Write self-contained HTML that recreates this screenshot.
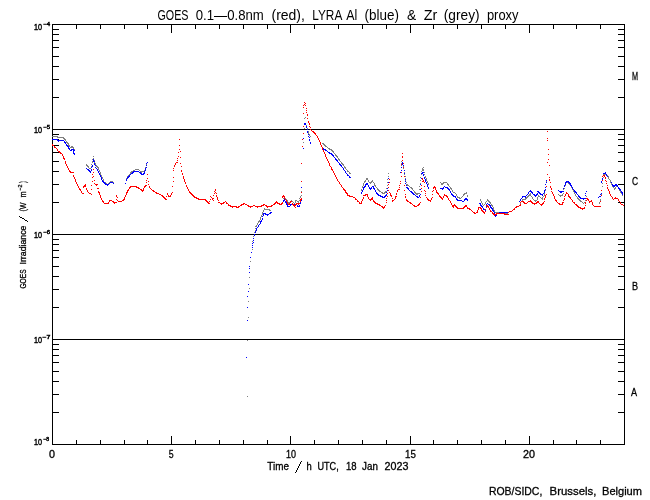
<!DOCTYPE html>
<html><head><meta charset="utf-8"><style>
html,body{margin:0;padding:0;background:#fff;width:650px;height:500px;overflow:hidden}
svg{display:block;will-change:transform}
text{font-family:"Liberation Sans",sans-serif;fill:#000;stroke:#000;stroke-width:0.3px}
</style></head><body>
<svg width="650" height="500" viewBox="0 0 650 500">
<rect x="0" y="0" width="650" height="500" fill="#fff"/>
<g shape-rendering="crispEdges">
<rect x="52" y="24" width="573" height="1" fill="#000"/>
<rect x="52" y="444" width="573" height="1" fill="#000"/>
<rect x="52" y="24" width="1" height="421" fill="#000"/>
<rect x="624" y="24" width="1" height="421" fill="#000"/>
<rect x="52" y="129" width="573" height="1" fill="#000"/>
<rect x="52" y="234" width="573" height="1" fill="#000"/>
<rect x="52" y="339" width="573" height="1" fill="#000"/>
<rect x="52" y="97" width="7" height="1" fill="#000"/>
<rect x="618" y="97" width="7" height="1" fill="#000"/>
<rect x="52" y="79" width="7" height="1" fill="#000"/>
<rect x="618" y="79" width="7" height="1" fill="#000"/>
<rect x="52" y="66" width="7" height="1" fill="#000"/>
<rect x="618" y="66" width="7" height="1" fill="#000"/>
<rect x="52" y="56" width="7" height="1" fill="#000"/>
<rect x="618" y="56" width="7" height="1" fill="#000"/>
<rect x="52" y="47" width="7" height="1" fill="#000"/>
<rect x="618" y="47" width="7" height="1" fill="#000"/>
<rect x="52" y="40" width="7" height="1" fill="#000"/>
<rect x="618" y="40" width="7" height="1" fill="#000"/>
<rect x="52" y="34" width="7" height="1" fill="#000"/>
<rect x="618" y="34" width="7" height="1" fill="#000"/>
<rect x="52" y="29" width="7" height="1" fill="#000"/>
<rect x="618" y="29" width="7" height="1" fill="#000"/>
<rect x="52" y="202" width="7" height="1" fill="#000"/>
<rect x="618" y="202" width="7" height="1" fill="#000"/>
<rect x="52" y="184" width="7" height="1" fill="#000"/>
<rect x="618" y="184" width="7" height="1" fill="#000"/>
<rect x="52" y="171" width="7" height="1" fill="#000"/>
<rect x="618" y="171" width="7" height="1" fill="#000"/>
<rect x="52" y="161" width="7" height="1" fill="#000"/>
<rect x="618" y="161" width="7" height="1" fill="#000"/>
<rect x="52" y="152" width="7" height="1" fill="#000"/>
<rect x="618" y="152" width="7" height="1" fill="#000"/>
<rect x="52" y="145" width="7" height="1" fill="#000"/>
<rect x="618" y="145" width="7" height="1" fill="#000"/>
<rect x="52" y="139" width="7" height="1" fill="#000"/>
<rect x="618" y="139" width="7" height="1" fill="#000"/>
<rect x="52" y="134" width="7" height="1" fill="#000"/>
<rect x="618" y="134" width="7" height="1" fill="#000"/>
<rect x="52" y="307" width="7" height="1" fill="#000"/>
<rect x="618" y="307" width="7" height="1" fill="#000"/>
<rect x="52" y="289" width="7" height="1" fill="#000"/>
<rect x="618" y="289" width="7" height="1" fill="#000"/>
<rect x="52" y="276" width="7" height="1" fill="#000"/>
<rect x="618" y="276" width="7" height="1" fill="#000"/>
<rect x="52" y="266" width="7" height="1" fill="#000"/>
<rect x="618" y="266" width="7" height="1" fill="#000"/>
<rect x="52" y="257" width="7" height="1" fill="#000"/>
<rect x="618" y="257" width="7" height="1" fill="#000"/>
<rect x="52" y="250" width="7" height="1" fill="#000"/>
<rect x="618" y="250" width="7" height="1" fill="#000"/>
<rect x="52" y="244" width="7" height="1" fill="#000"/>
<rect x="618" y="244" width="7" height="1" fill="#000"/>
<rect x="52" y="239" width="7" height="1" fill="#000"/>
<rect x="618" y="239" width="7" height="1" fill="#000"/>
<rect x="52" y="412" width="7" height="1" fill="#000"/>
<rect x="618" y="412" width="7" height="1" fill="#000"/>
<rect x="52" y="394" width="7" height="1" fill="#000"/>
<rect x="618" y="394" width="7" height="1" fill="#000"/>
<rect x="52" y="381" width="7" height="1" fill="#000"/>
<rect x="618" y="381" width="7" height="1" fill="#000"/>
<rect x="52" y="371" width="7" height="1" fill="#000"/>
<rect x="618" y="371" width="7" height="1" fill="#000"/>
<rect x="52" y="362" width="7" height="1" fill="#000"/>
<rect x="618" y="362" width="7" height="1" fill="#000"/>
<rect x="52" y="355" width="7" height="1" fill="#000"/>
<rect x="618" y="355" width="7" height="1" fill="#000"/>
<rect x="52" y="349" width="7" height="1" fill="#000"/>
<rect x="618" y="349" width="7" height="1" fill="#000"/>
<rect x="52" y="344" width="7" height="1" fill="#000"/>
<rect x="618" y="344" width="7" height="1" fill="#000"/>
<rect x="76" y="24" width="1" height="5" fill="#000"/>
<rect x="76" y="440" width="1" height="5" fill="#000"/>
<rect x="100" y="24" width="1" height="5" fill="#000"/>
<rect x="100" y="440" width="1" height="5" fill="#000"/>
<rect x="124" y="24" width="1" height="5" fill="#000"/>
<rect x="124" y="440" width="1" height="5" fill="#000"/>
<rect x="147" y="24" width="1" height="5" fill="#000"/>
<rect x="147" y="440" width="1" height="5" fill="#000"/>
<rect x="171" y="24" width="1" height="9" fill="#000"/>
<rect x="171" y="436" width="1" height="9" fill="#000"/>
<rect x="195" y="24" width="1" height="5" fill="#000"/>
<rect x="195" y="440" width="1" height="5" fill="#000"/>
<rect x="219" y="24" width="1" height="5" fill="#000"/>
<rect x="219" y="440" width="1" height="5" fill="#000"/>
<rect x="243" y="24" width="1" height="5" fill="#000"/>
<rect x="243" y="440" width="1" height="5" fill="#000"/>
<rect x="267" y="24" width="1" height="5" fill="#000"/>
<rect x="267" y="440" width="1" height="5" fill="#000"/>
<rect x="290" y="24" width="1" height="9" fill="#000"/>
<rect x="290" y="436" width="1" height="9" fill="#000"/>
<rect x="314" y="24" width="1" height="5" fill="#000"/>
<rect x="314" y="440" width="1" height="5" fill="#000"/>
<rect x="338" y="24" width="1" height="5" fill="#000"/>
<rect x="338" y="440" width="1" height="5" fill="#000"/>
<rect x="362" y="24" width="1" height="5" fill="#000"/>
<rect x="362" y="440" width="1" height="5" fill="#000"/>
<rect x="386" y="24" width="1" height="5" fill="#000"/>
<rect x="386" y="440" width="1" height="5" fill="#000"/>
<rect x="410" y="24" width="1" height="9" fill="#000"/>
<rect x="410" y="436" width="1" height="9" fill="#000"/>
<rect x="433" y="24" width="1" height="5" fill="#000"/>
<rect x="433" y="440" width="1" height="5" fill="#000"/>
<rect x="457" y="24" width="1" height="5" fill="#000"/>
<rect x="457" y="440" width="1" height="5" fill="#000"/>
<rect x="481" y="24" width="1" height="5" fill="#000"/>
<rect x="481" y="440" width="1" height="5" fill="#000"/>
<rect x="505" y="24" width="1" height="5" fill="#000"/>
<rect x="505" y="440" width="1" height="5" fill="#000"/>
<rect x="529" y="24" width="1" height="9" fill="#000"/>
<rect x="529" y="436" width="1" height="9" fill="#000"/>
<rect x="553" y="24" width="1" height="5" fill="#000"/>
<rect x="553" y="440" width="1" height="5" fill="#000"/>
<rect x="576" y="24" width="1" height="5" fill="#000"/>
<rect x="576" y="440" width="1" height="5" fill="#000"/>
<rect x="600" y="24" width="1" height="5" fill="#000"/>
<rect x="600" y="440" width="1" height="5" fill="#000"/>
<path d="M52 136h1v1h-1zM53 136h1v1h-1zM54 136h1v1h-1zM55 136h1v1h-1zM56 136h1v1h-1zM57 136h1v1h-1zM57 137h1v1h-1zM58 137h1v1h-1zM59 137h1v1h-1zM60 137h1v1h-1zM61 137h1v1h-1zM62 137h1v1h-1zM63 137h1v1h-1zM63 138h1v1h-1zM64 138h1v1h-1zM64 139h1v1h-1zM65 139h1v1h-1zM65 140h1v1h-1zM66 141h1v1h-1zM66 142h1v1h-1zM67 142h1v1h-1zM67 143h1v1h-1zM68 143h1v1h-1zM68 144h1v1h-1zM68 145h1v1h-1zM69 145h1v1h-1zM69 146h1v1h-1zM70 147h1v1h-1zM71 146h1v1h-1zM71 147h1v1h-1zM72 146h1v1h-1zM72 147h1v1h-1zM73 147h1v1h-1zM73 148h1v1h-1zM74 149h1v1h-1zM74 150h1v1h-1zM86 164h1v1h-1zM86 165h1v1h-1zM87 165h1v1h-1zM87 166h1v1h-1zM88 166h1v1h-1zM88 167h1v1h-1zM89 168h1v1h-1zM90 168h1v1h-1zM91 164h1v1h-1zM91 166h1v1h-1zM91 169h1v1h-1zM92 159h1v1h-1zM92 161h1v1h-1zM92 162h1v1h-1zM93 156h1v1h-1zM93 158h1v1h-1zM94 160h1v1h-1zM94 162h1v1h-1zM94 163h1v1h-1zM95 163h1v1h-1zM95 164h1v1h-1zM96 165h1v1h-1zM96 166h1v1h-1zM97 166h1v1h-1zM97 167h1v1h-1zM98 167h1v1h-1zM98 168h1v1h-1zM98 169h1v1h-1zM99 170h1v1h-1zM99 171h1v1h-1zM100 172h1v1h-1zM100 173h1v1h-1zM100 174h1v1h-1zM101 175h1v1h-1zM101 176h1v1h-1zM102 177h1v1h-1zM102 178h1v1h-1zM103 179h1v1h-1zM103 180h1v1h-1zM103 181h1v1h-1zM104 182h1v1h-1zM105 182h1v1h-1zM105 183h1v1h-1zM106 183h1v1h-1zM106 184h1v1h-1zM107 184h1v1h-1zM107 185h1v1h-1zM108 183h1v1h-1zM108 184h1v1h-1zM109 182h1v1h-1zM110 181h1v1h-1zM110 182h1v1h-1zM111 181h1v1h-1zM112 181h1v1h-1zM113 182h1v1h-1zM126 178h1v1h-1zM126 179h1v1h-1zM127 176h1v1h-1zM127 177h1v1h-1zM128 175h1v1h-1zM128 176h1v1h-1zM129 174h1v1h-1zM129 175h1v1h-1zM130 172h1v1h-1zM130 173h1v1h-1zM131 171h1v1h-1zM131 172h1v1h-1zM132 171h1v1h-1zM133 170h1v1h-1zM133 171h1v1h-1zM134 170h1v1h-1zM135 169h1v1h-1zM136 169h1v1h-1zM137 169h1v1h-1zM138 169h1v1h-1zM139 170h1v1h-1zM140 171h1v1h-1zM141 171h1v1h-1zM141 172h1v1h-1zM142 171h1v1h-1zM143 171h1v1h-1zM144 170h1v1h-1zM145 167h1v1h-1zM145 168h1v1h-1zM145 169h1v1h-1zM146 164h1v1h-1zM146 165h1v1h-1zM247 340h1v1h-1zM247 396h1v1h-1zM248 301h1v1h-1zM248 317h1v1h-1zM249 277h1v1h-1zM249 288h1v1h-1zM250 261h1v1h-1zM252 241h1v1h-1zM252 243h1v1h-1zM252 245h1v1h-1zM252 249h1v1h-1zM253 236h1v1h-1zM253 238h1v1h-1zM253 240h1v1h-1zM254 232h1v1h-1zM254 234h1v1h-1zM255 226h1v1h-1zM255 228h1v1h-1zM255 230h1v1h-1zM256 225h1v1h-1zM256 226h1v1h-1zM257 223h1v1h-1zM257 224h1v1h-1zM258 221h1v1h-1zM258 222h1v1h-1zM259 220h1v1h-1zM259 221h1v1h-1zM260 217h1v1h-1zM260 218h1v1h-1zM260 219h1v1h-1zM261 215h1v1h-1zM261 216h1v1h-1zM262 212h1v1h-1zM262 213h1v1h-1zM262 214h1v1h-1zM263 210h1v1h-1zM263 211h1v1h-1zM264 208h1v1h-1zM264 209h1v1h-1zM265 209h1v1h-1zM266 209h1v1h-1zM267 209h1v1h-1zM268 209h1v1h-1zM269 209h1v1h-1zM269 210h1v1h-1zM270 210h1v1h-1zM283 198h1v1h-1zM284 198h1v1h-1zM285 198h1v1h-1zM286 199h1v1h-1zM287 200h1v1h-1zM287 201h1v1h-1zM287 203h1v1h-1zM288 202h1v1h-1zM288 203h1v1h-1zM289 202h1v1h-1zM290 201h1v1h-1zM290 202h1v1h-1zM291 200h1v1h-1zM291 201h1v1h-1zM292 201h1v1h-1zM293 202h1v1h-1zM294 203h1v1h-1zM295 200h1v1h-1zM295 201h1v1h-1zM295 202h1v1h-1zM296 200h1v1h-1zM297 201h1v1h-1zM298 201h1v1h-1zM298 202h1v1h-1zM299 198h1v1h-1zM299 200h1v1h-1zM300 196h1v1h-1zM300 197h1v1h-1zM301 191h1v1h-1zM301 195h1v1h-1zM303 133h1v1h-1zM303 142h1v1h-1zM304 118h1v1h-1zM304 128h1v1h-1zM305 117h1v1h-1zM306 125h1v1h-1zM306 126h1v1h-1zM306 127h1v1h-1zM307 128h1v1h-1zM307 129h1v1h-1zM308 131h1v1h-1zM308 132h1v1h-1zM308 133h1v1h-1zM309 134h1v1h-1zM309 135h1v1h-1zM310 136h1v1h-1zM322 143h1v1h-1zM323 143h1v1h-1zM323 144h1v1h-1zM324 144h1v1h-1zM324 145h1v1h-1zM325 145h1v1h-1zM325 146h1v1h-1zM326 146h1v1h-1zM327 147h1v1h-1zM328 148h1v1h-1zM329 148h1v1h-1zM329 149h1v1h-1zM330 149h1v1h-1zM331 149h1v1h-1zM331 150h1v1h-1zM332 150h1v1h-1zM332 151h1v1h-1zM333 151h1v1h-1zM333 152h1v1h-1zM334 153h1v1h-1zM335 154h1v1h-1zM335 155h1v1h-1zM336 155h1v1h-1zM336 156h1v1h-1zM337 156h1v1h-1zM337 157h1v1h-1zM338 158h1v1h-1zM338 159h1v1h-1zM339 159h1v1h-1zM339 160h1v1h-1zM340 161h1v1h-1zM341 162h1v1h-1zM341 163h1v1h-1zM342 163h1v1h-1zM342 164h1v1h-1zM343 164h1v1h-1zM343 165h1v1h-1zM344 166h1v1h-1zM344 167h1v1h-1zM345 167h1v1h-1zM345 168h1v1h-1zM346 169h1v1h-1zM347 170h1v1h-1zM347 171h1v1h-1zM348 171h1v1h-1zM349 172h1v1h-1zM349 173h1v1h-1zM350 173h1v1h-1zM361 189h1v1h-1zM361 190h1v1h-1zM362 186h1v1h-1zM362 187h1v1h-1zM363 183h1v1h-1zM363 184h1v1h-1zM363 185h1v1h-1zM364 181h1v1h-1zM364 182h1v1h-1zM365 180h1v1h-1zM365 181h1v1h-1zM366 178h1v1h-1zM366 179h1v1h-1zM367 178h1v1h-1zM367 179h1v1h-1zM368 180h1v1h-1zM368 181h1v1h-1zM369 182h1v1h-1zM370 182h1v1h-1zM370 183h1v1h-1zM371 181h1v1h-1zM371 182h1v1h-1zM372 180h1v1h-1zM372 181h1v1h-1zM373 182h1v1h-1zM374 183h1v1h-1zM374 184h1v1h-1zM374 185h1v1h-1zM375 185h1v1h-1zM375 186h1v1h-1zM376 187h1v1h-1zM377 188h1v1h-1zM377 189h1v1h-1zM378 189h1v1h-1zM378 190h1v1h-1zM379 190h1v1h-1zM379 191h1v1h-1zM380 191h1v1h-1zM381 192h1v1h-1zM382 192h1v1h-1zM382 193h1v1h-1zM383 193h1v1h-1zM384 192h1v1h-1zM384 193h1v1h-1zM385 191h1v1h-1zM385 192h1v1h-1zM386 188h1v1h-1zM386 191h1v1h-1zM387 179h1v1h-1zM387 182h1v1h-1zM387 185h1v1h-1zM388 173h1v1h-1zM388 176h1v1h-1zM401 161h1v1h-1zM401 163h1v1h-1zM401 165h1v1h-1zM402 160h1v1h-1zM402 162h1v1h-1zM402 164h1v1h-1zM403 166h1v1h-1zM403 168h1v1h-1zM404 170h1v1h-1zM404 172h1v1h-1zM404 174h1v1h-1zM405 176h1v1h-1zM405 178h1v1h-1zM405 180h1v1h-1zM406 182h1v1h-1zM406 184h1v1h-1zM407 184h1v1h-1zM407 185h1v1h-1zM408 185h1v1h-1zM409 186h1v1h-1zM410 187h1v1h-1zM411 187h1v1h-1zM411 188h1v1h-1zM412 188h1v1h-1zM412 189h1v1h-1zM413 190h1v1h-1zM414 191h1v1h-1zM414 192h1v1h-1zM415 192h1v1h-1zM415 193h1v1h-1zM416 193h1v1h-1zM416 194h1v1h-1zM417 193h1v1h-1zM417 194h1v1h-1zM418 193h1v1h-1zM419 186h1v1h-1zM419 189h1v1h-1zM419 193h1v1h-1zM420 177h1v1h-1zM420 180h1v1h-1zM420 183h1v1h-1zM421 171h1v1h-1zM421 174h1v1h-1zM422 168h1v1h-1zM422 169h1v1h-1zM422 170h1v1h-1zM423 167h1v1h-1zM423 169h1v1h-1zM423 170h1v1h-1zM424 172h1v1h-1zM424 174h1v1h-1zM425 176h1v1h-1zM425 177h1v1h-1zM426 178h1v1h-1zM426 179h1v1h-1zM426 180h1v1h-1zM427 181h1v1h-1zM427 182h1v1h-1zM428 183h1v1h-1zM428 184h1v1h-1zM440 182h1v1h-1zM441 183h1v1h-1zM441 184h1v1h-1zM442 183h1v1h-1zM442 184h1v1h-1zM443 182h1v1h-1zM443 183h1v1h-1zM444 182h1v1h-1zM445 182h1v1h-1zM446 182h1v1h-1zM447 183h1v1h-1zM447 184h1v1h-1zM448 184h1v1h-1zM448 185h1v1h-1zM449 186h1v1h-1zM450 187h1v1h-1zM450 188h1v1h-1zM451 188h1v1h-1zM451 189h1v1h-1zM452 190h1v1h-1zM452 191h1v1h-1zM453 192h1v1h-1zM454 192h1v1h-1zM455 193h1v1h-1zM456 194h1v1h-1zM456 195h1v1h-1zM457 196h1v1h-1zM457 197h1v1h-1zM458 197h1v1h-1zM459 197h1v1h-1zM459 198h1v1h-1zM460 198h1v1h-1zM461 197h1v1h-1zM462 196h1v1h-1zM463 194h1v1h-1zM463 195h1v1h-1zM464 193h1v1h-1zM464 194h1v1h-1zM465 193h1v1h-1zM466 192h1v1h-1zM466 193h1v1h-1zM467 195h1v1h-1zM467 196h1v1h-1zM480 199h1v1h-1zM480 200h1v1h-1zM481 201h1v1h-1zM481 202h1v1h-1zM482 203h1v1h-1zM482 204h1v1h-1zM483 205h1v1h-1zM484 204h1v1h-1zM485 202h1v1h-1zM485 203h1v1h-1zM486 201h1v1h-1zM487 199h1v1h-1zM487 200h1v1h-1zM488 200h1v1h-1zM488 201h1v1h-1zM489 201h1v1h-1zM489 202h1v1h-1zM490 202h1v1h-1zM490 203h1v1h-1zM491 204h1v1h-1zM491 205h1v1h-1zM492 205h1v1h-1zM492 206h1v1h-1zM493 207h1v1h-1zM493 208h1v1h-1zM493 209h1v1h-1zM494 210h1v1h-1zM494 211h1v1h-1zM495 212h1v1h-1zM496 212h1v1h-1zM497 212h1v1h-1zM498 212h1v1h-1zM499 212h1v1h-1zM500 212h1v1h-1zM501 212h1v1h-1zM502 212h1v1h-1zM503 212h1v1h-1zM504 212h1v1h-1zM504 213h1v1h-1zM505 213h1v1h-1zM506 213h1v1h-1zM507 213h1v1h-1zM520 202h1v1h-1zM520 203h1v1h-1zM520 204h1v1h-1zM521 201h1v1h-1zM522 199h1v1h-1zM522 200h1v1h-1zM523 199h1v1h-1zM524 199h1v1h-1zM525 198h1v1h-1zM525 199h1v1h-1zM526 197h1v1h-1zM526 198h1v1h-1zM527 196h1v1h-1zM527 197h1v1h-1zM528 195h1v1h-1zM528 196h1v1h-1zM529 194h1v1h-1zM529 195h1v1h-1zM530 193h1v1h-1zM530 194h1v1h-1zM530 195h1v1h-1zM531 196h1v1h-1zM532 197h1v1h-1zM532 198h1v1h-1zM533 199h1v1h-1zM534 200h1v1h-1zM535 200h1v1h-1zM535 201h1v1h-1zM536 200h1v1h-1zM537 197h1v1h-1zM537 198h1v1h-1zM537 199h1v1h-1zM538 195h1v1h-1zM538 196h1v1h-1zM539 196h1v1h-1zM540 197h1v1h-1zM541 198h1v1h-1zM542 197h1v1h-1zM542 198h1v1h-1zM542 199h1v1h-1zM543 196h1v1h-1zM544 193h1v1h-1zM544 194h1v1h-1zM544 195h1v1h-1zM545 184h1v1h-1zM545 187h1v1h-1zM545 190h1v1h-1zM546 181h1v1h-1zM558 194h1v1h-1zM559 195h1v1h-1zM560 195h1v1h-1zM560 196h1v1h-1zM561 195h1v1h-1zM562 194h1v1h-1zM562 195h1v1h-1zM563 189h1v1h-1zM563 191h1v1h-1zM563 193h1v1h-1zM564 186h1v1h-1zM564 188h1v1h-1zM565 182h1v1h-1zM565 184h1v1h-1zM565 185h1v1h-1zM566 182h1v1h-1zM567 182h1v1h-1zM568 182h1v1h-1zM568 183h1v1h-1zM569 183h1v1h-1zM569 184h1v1h-1zM570 185h1v1h-1zM571 186h1v1h-1zM571 187h1v1h-1zM572 188h1v1h-1zM572 189h1v1h-1zM573 190h1v1h-1zM573 191h1v1h-1zM574 192h1v1h-1zM574 193h1v1h-1zM575 194h1v1h-1zM575 195h1v1h-1zM576 196h1v1h-1zM577 197h1v1h-1zM577 198h1v1h-1zM578 198h1v1h-1zM578 199h1v1h-1zM579 199h1v1h-1zM579 200h1v1h-1zM580 200h1v1h-1zM580 201h1v1h-1zM581 201h1v1h-1zM582 202h1v1h-1zM583 203h1v1h-1zM584 202h1v1h-1zM585 198h1v1h-1zM585 200h1v1h-1zM585 202h1v1h-1zM586 196h1v1h-1zM599 202h1v1h-1zM599 203h1v1h-1zM600 199h1v1h-1zM600 200h1v1h-1zM600 201h1v1h-1zM601 190h1v1h-1zM601 194h1v1h-1zM602 180h1v1h-1zM602 183h1v1h-1zM602 186h1v1h-1zM603 174h1v1h-1zM603 177h1v1h-1zM604 174h1v1h-1zM605 173h1v1h-1zM605 174h1v1h-1zM606 174h1v1h-1zM607 175h1v1h-1zM608 176h1v1h-1zM608 177h1v1h-1zM608 178h1v1h-1zM609 179h1v1h-1zM610 180h1v1h-1zM610 181h1v1h-1zM610 182h1v1h-1zM611 183h1v1h-1zM611 184h1v1h-1zM612 184h1v1h-1zM612 185h1v1h-1zM612 186h1v1h-1zM613 186h1v1h-1zM613 187h1v1h-1zM614 188h1v1h-1zM614 189h1v1h-1zM615 187h1v1h-1zM615 188h1v1h-1zM616 185h1v1h-1zM616 186h1v1h-1zM617 185h1v1h-1zM617 186h1v1h-1zM618 187h1v1h-1zM618 188h1v1h-1zM619 188h1v1h-1zM619 189h1v1h-1zM619 190h1v1h-1zM620 190h1v1h-1zM620 191h1v1h-1zM620 192h1v1h-1zM621 192h1v1h-1zM621 193h1v1h-1zM622 194h1v1h-1zM622 195h1v1h-1z" fill="#808080"/>
<path d="M52 139h1v1h-1zM53 139h1v1h-1zM54 139h1v1h-1zM55 139h1v1h-1zM56 139h1v1h-1zM57 139h1v1h-1zM57 140h1v1h-1zM58 140h1v1h-1zM58 141h1v1h-1zM59 140h1v1h-1zM60 140h1v1h-1zM61 140h1v1h-1zM62 140h1v1h-1zM63 140h1v1h-1zM64 141h1v1h-1zM64 142h1v1h-1zM65 142h1v1h-1zM65 143h1v1h-1zM66 144h1v1h-1zM66 145h1v1h-1zM67 145h1v1h-1zM67 146h1v1h-1zM68 146h1v1h-1zM68 147h1v1h-1zM68 148h1v1h-1zM69 148h1v1h-1zM69 149h1v1h-1zM70 150h1v1h-1zM71 149h1v1h-1zM71 150h1v1h-1zM72 149h1v1h-1zM73 149h1v1h-1zM73 150h1v1h-1zM73 151h1v1h-1zM73 152h1v1h-1zM73 153h1v1h-1zM74 150h1v1h-1zM74 153h1v1h-1zM74 154h1v1h-1zM86 168h1v1h-1zM87 169h1v1h-1zM88 169h1v1h-1zM88 170h1v1h-1zM89 170h1v1h-1zM89 171h1v1h-1zM90 171h1v1h-1zM90 172h1v1h-1zM91 167h1v1h-1zM91 169h1v1h-1zM91 170h1v1h-1zM92 165h1v1h-1zM92 166h1v1h-1zM93 159h1v1h-1zM93 160h1v1h-1zM93 161h1v1h-1zM94 161h1v1h-1zM94 163h1v1h-1zM94 164h1v1h-1zM95 165h1v1h-1zM95 167h1v1h-1zM96 168h1v1h-1zM97 169h1v1h-1zM97 170h1v1h-1zM98 171h1v1h-1zM98 172h1v1h-1zM99 173h1v1h-1zM99 174h1v1h-1zM100 175h1v1h-1zM100 176h1v1h-1zM101 177h1v1h-1zM101 178h1v1h-1zM101 179h1v1h-1zM102 180h1v1h-1zM102 181h1v1h-1zM103 181h1v1h-1zM103 182h1v1h-1zM104 182h1v1h-1zM104 183h1v1h-1zM105 183h1v1h-1zM105 184h1v1h-1zM106 184h1v1h-1zM107 184h1v1h-1zM107 185h1v1h-1zM108 184h1v1h-1zM109 183h1v1h-1zM110 182h1v1h-1zM111 182h1v1h-1zM112 182h1v1h-1zM113 183h1v1h-1zM125 183h1v1h-1zM126 179h1v1h-1zM126 180h1v1h-1zM127 177h1v1h-1zM127 178h1v1h-1zM128 176h1v1h-1zM128 177h1v1h-1zM129 175h1v1h-1zM129 176h1v1h-1zM130 174h1v1h-1zM131 173h1v1h-1zM132 172h1v1h-1zM132 173h1v1h-1zM133 171h1v1h-1zM133 172h1v1h-1zM134 171h1v1h-1zM135 171h1v1h-1zM136 171h1v1h-1zM137 171h1v1h-1zM138 171h1v1h-1zM139 172h1v1h-1zM140 172h1v1h-1zM140 173h1v1h-1zM141 173h1v1h-1zM141 174h1v1h-1zM142 174h1v1h-1zM143 173h1v1h-1zM143 174h1v1h-1zM144 171h1v1h-1zM144 172h1v1h-1zM144 173h1v1h-1zM145 168h1v1h-1zM145 169h1v1h-1zM145 170h1v1h-1zM146 163h1v1h-1zM146 165h1v1h-1zM146 167h1v1h-1zM147 162h1v1h-1zM246 357h1v1h-1zM247 296h1v1h-1zM247 307h1v1h-1zM247 320h1v1h-1zM248 284h1v1h-1zM248 291h1v1h-1zM249 266h1v1h-1zM249 268h1v1h-1zM249 272h1v1h-1zM250 257h1v1h-1zM251 252h1v1h-1zM252 243h1v1h-1zM252 245h1v1h-1zM252 247h1v1h-1zM253 238h1v1h-1zM253 240h1v1h-1zM253 242h1v1h-1zM254 234h1v1h-1zM254 235h1v1h-1zM255 231h1v1h-1zM255 232h1v1h-1zM256 228h1v1h-1zM256 229h1v1h-1zM256 230h1v1h-1zM257 227h1v1h-1zM258 225h1v1h-1zM258 226h1v1h-1zM259 224h1v1h-1zM260 221h1v1h-1zM260 222h1v1h-1zM260 223h1v1h-1zM261 220h1v1h-1zM261 221h1v1h-1zM262 216h1v1h-1zM262 218h1v1h-1zM262 219h1v1h-1zM263 213h1v1h-1zM263 214h1v1h-1zM263 215h1v1h-1zM264 213h1v1h-1zM265 213h1v1h-1zM265 214h1v1h-1zM266 214h1v1h-1zM267 214h1v1h-1zM267 215h1v1h-1zM268 214h1v1h-1zM269 213h1v1h-1zM270 212h1v1h-1zM270 213h1v1h-1zM271 212h1v1h-1zM283 200h1v1h-1zM283 201h1v1h-1zM284 199h1v1h-1zM284 200h1v1h-1zM285 201h1v1h-1zM285 202h1v1h-1zM286 202h1v1h-1zM286 203h1v1h-1zM286 204h1v1h-1zM287 204h1v1h-1zM287 205h1v1h-1zM287 206h1v1h-1zM288 206h1v1h-1zM289 206h1v1h-1zM290 204h1v1h-1zM290 205h1v1h-1zM291 204h1v1h-1zM292 204h1v1h-1zM293 204h1v1h-1zM294 204h1v1h-1zM295 204h1v1h-1zM296 204h1v1h-1zM297 205h1v1h-1zM297 206h1v1h-1zM298 206h1v1h-1zM299 205h1v1h-1zM299 206h1v1h-1zM300 201h1v1h-1zM300 202h1v1h-1zM300 203h1v1h-1zM301 187h1v1h-1zM301 199h1v1h-1zM301 200h1v1h-1zM303 138h1v1h-1zM303 148h1v1h-1zM304 123h1v1h-1zM304 124h1v1h-1zM305 123h1v1h-1zM305 124h1v1h-1zM306 126h1v1h-1zM306 127h1v1h-1zM307 129h1v1h-1zM307 131h1v1h-1zM307 132h1v1h-1zM308 134h1v1h-1zM308 136h1v1h-1zM309 137h1v1h-1zM309 139h1v1h-1zM309 140h1v1h-1zM310 142h1v1h-1zM310 143h1v1h-1zM323 148h1v1h-1zM323 149h1v1h-1zM324 149h1v1h-1zM325 149h1v1h-1zM325 150h1v1h-1zM326 150h1v1h-1zM327 151h1v1h-1zM328 152h1v1h-1zM329 152h1v1h-1zM329 153h1v1h-1zM330 153h1v1h-1zM331 153h1v1h-1zM331 154h1v1h-1zM332 154h1v1h-1zM332 155h1v1h-1zM333 155h1v1h-1zM333 156h1v1h-1zM334 157h1v1h-1zM335 158h1v1h-1zM335 159h1v1h-1zM336 159h1v1h-1zM336 160h1v1h-1zM337 160h1v1h-1zM337 161h1v1h-1zM338 162h1v1h-1zM339 163h1v1h-1zM339 164h1v1h-1zM340 164h1v1h-1zM340 165h1v1h-1zM341 165h1v1h-1zM341 166h1v1h-1zM342 167h1v1h-1zM343 168h1v1h-1zM343 169h1v1h-1zM344 170h1v1h-1zM345 171h1v1h-1zM345 172h1v1h-1zM346 173h1v1h-1zM347 174h1v1h-1zM347 175h1v1h-1zM348 175h1v1h-1zM349 176h1v1h-1zM349 177h1v1h-1zM350 177h1v1h-1zM361 192h1v1h-1zM361 193h1v1h-1zM362 190h1v1h-1zM362 191h1v1h-1zM363 187h1v1h-1zM363 188h1v1h-1zM363 189h1v1h-1zM364 186h1v1h-1zM364 187h1v1h-1zM365 184h1v1h-1zM365 185h1v1h-1zM365 186h1v1h-1zM366 183h1v1h-1zM366 184h1v1h-1zM367 183h1v1h-1zM367 184h1v1h-1zM368 185h1v1h-1zM368 186h1v1h-1zM369 187h1v1h-1zM369 188h1v1h-1zM370 188h1v1h-1zM370 189h1v1h-1zM371 187h1v1h-1zM371 188h1v1h-1zM372 186h1v1h-1zM373 186h1v1h-1zM373 187h1v1h-1zM373 188h1v1h-1zM374 188h1v1h-1zM374 189h1v1h-1zM375 190h1v1h-1zM375 191h1v1h-1zM376 192h1v1h-1zM376 193h1v1h-1zM377 193h1v1h-1zM377 194h1v1h-1zM378 194h1v1h-1zM378 195h1v1h-1zM379 195h1v1h-1zM380 195h1v1h-1zM380 196h1v1h-1zM381 196h1v1h-1zM382 196h1v1h-1zM382 197h1v1h-1zM383 197h1v1h-1zM384 196h1v1h-1zM384 197h1v1h-1zM385 195h1v1h-1zM385 196h1v1h-1zM386 192h1v1h-1zM386 194h1v1h-1zM386 195h1v1h-1zM387 188h1v1h-1zM387 190h1v1h-1zM388 178h1v1h-1zM388 182h1v1h-1zM388 187h1v1h-1zM400 172h1v1h-1zM401 164h1v1h-1zM401 167h1v1h-1zM401 170h1v1h-1zM402 162h1v1h-1zM402 163h1v1h-1zM402 164h1v1h-1zM403 165h1v1h-1zM403 167h1v1h-1zM404 170h1v1h-1zM404 173h1v1h-1zM404 176h1v1h-1zM405 179h1v1h-1zM405 181h1v1h-1zM405 183h1v1h-1zM406 185h1v1h-1zM406 187h1v1h-1zM407 187h1v1h-1zM407 188h1v1h-1zM408 188h1v1h-1zM408 189h1v1h-1zM409 190h1v1h-1zM410 191h1v1h-1zM411 191h1v1h-1zM411 192h1v1h-1zM412 192h1v1h-1zM412 193h1v1h-1zM413 193h1v1h-1zM413 194h1v1h-1zM414 194h1v1h-1zM415 195h1v1h-1zM416 196h1v1h-1zM417 196h1v1h-1zM417 197h1v1h-1zM418 197h1v1h-1zM419 195h1v1h-1zM419 196h1v1h-1zM420 184h1v1h-1zM420 189h1v1h-1zM420 194h1v1h-1zM421 173h1v1h-1zM421 178h1v1h-1zM422 172h1v1h-1zM422 173h1v1h-1zM423 172h1v1h-1zM423 174h1v1h-1zM423 175h1v1h-1zM424 177h1v1h-1zM424 178h1v1h-1zM425 179h1v1h-1zM425 180h1v1h-1zM425 181h1v1h-1zM426 182h1v1h-1zM426 183h1v1h-1zM427 184h1v1h-1zM427 185h1v1h-1zM427 186h1v1h-1zM428 187h1v1h-1zM428 188h1v1h-1zM440 188h1v1h-1zM441 188h1v1h-1zM442 188h1v1h-1zM442 189h1v1h-1zM443 187h1v1h-1zM443 188h1v1h-1zM444 186h1v1h-1zM445 187h1v1h-1zM446 187h1v1h-1zM447 187h1v1h-1zM447 188h1v1h-1zM448 188h1v1h-1zM448 189h1v1h-1zM449 189h1v1h-1zM449 190h1v1h-1zM450 191h1v1h-1zM450 192h1v1h-1zM451 193h1v1h-1zM451 194h1v1h-1zM452 194h1v1h-1zM452 195h1v1h-1zM453 195h1v1h-1zM453 196h1v1h-1zM454 196h1v1h-1zM455 196h1v1h-1zM455 197h1v1h-1zM456 198h1v1h-1zM456 199h1v1h-1zM457 199h1v1h-1zM457 200h1v1h-1zM458 200h1v1h-1zM459 200h1v1h-1zM460 200h1v1h-1zM461 200h1v1h-1zM462 201h1v1h-1zM463 201h1v1h-1zM464 199h1v1h-1zM464 200h1v1h-1zM465 198h1v1h-1zM465 199h1v1h-1zM466 198h1v1h-1zM466 199h1v1h-1zM467 199h1v1h-1zM467 200h1v1h-1zM479 203h1v1h-1zM480 203h1v1h-1zM480 204h1v1h-1zM480 205h1v1h-1zM481 205h1v1h-1zM481 206h1v1h-1zM482 206h1v1h-1zM482 207h1v1h-1zM483 208h1v1h-1zM483 209h1v1h-1zM484 209h1v1h-1zM485 209h1v1h-1zM485 210h1v1h-1zM486 204h1v1h-1zM486 206h1v1h-1zM486 207h1v1h-1zM487 203h1v1h-1zM488 204h1v1h-1zM489 204h1v1h-1zM489 205h1v1h-1zM490 205h1v1h-1zM490 206h1v1h-1zM490 207h1v1h-1zM491 207h1v1h-1zM491 208h1v1h-1zM492 208h1v1h-1zM492 209h1v1h-1zM492 210h1v1h-1zM493 210h1v1h-1zM493 211h1v1h-1zM494 212h1v1h-1zM494 213h1v1h-1zM494 214h1v1h-1zM495 215h1v1h-1zM495 216h1v1h-1zM496 214h1v1h-1zM496 215h1v1h-1zM497 213h1v1h-1zM498 213h1v1h-1zM499 212h1v1h-1zM500 212h1v1h-1zM501 212h1v1h-1zM502 212h1v1h-1zM503 212h1v1h-1zM504 212h1v1h-1zM505 212h1v1h-1zM506 212h1v1h-1zM507 212h1v1h-1zM519 201h1v1h-1zM520 199h1v1h-1zM520 200h1v1h-1zM521 198h1v1h-1zM522 196h1v1h-1zM522 197h1v1h-1zM523 196h1v1h-1zM524 196h1v1h-1zM525 196h1v1h-1zM525 197h1v1h-1zM526 195h1v1h-1zM527 194h1v1h-1zM528 192h1v1h-1zM528 193h1v1h-1zM529 191h1v1h-1zM530 190h1v1h-1zM530 191h1v1h-1zM531 191h1v1h-1zM531 192h1v1h-1zM532 192h1v1h-1zM532 193h1v1h-1zM533 194h1v1h-1zM534 194h1v1h-1zM534 195h1v1h-1zM535 195h1v1h-1zM535 196h1v1h-1zM536 194h1v1h-1zM536 195h1v1h-1zM537 191h1v1h-1zM537 193h1v1h-1zM537 194h1v1h-1zM538 191h1v1h-1zM538 192h1v1h-1zM539 192h1v1h-1zM539 193h1v1h-1zM540 193h1v1h-1zM540 194h1v1h-1zM541 194h1v1h-1zM542 194h1v1h-1zM542 195h1v1h-1zM543 193h1v1h-1zM544 190h1v1h-1zM544 191h1v1h-1zM544 192h1v1h-1zM545 184h1v1h-1zM545 187h1v1h-1zM545 189h1v1h-1zM546 180h1v1h-1zM546 182h1v1h-1zM558 190h1v1h-1zM559 191h1v1h-1zM560 191h1v1h-1zM560 192h1v1h-1zM561 191h1v1h-1zM561 192h1v1h-1zM562 191h1v1h-1zM563 188h1v1h-1zM563 191h1v1h-1zM564 185h1v1h-1zM564 186h1v1h-1zM565 182h1v1h-1zM565 183h1v1h-1zM565 184h1v1h-1zM566 181h1v1h-1zM566 182h1v1h-1zM567 181h1v1h-1zM568 181h1v1h-1zM568 182h1v1h-1zM569 182h1v1h-1zM569 183h1v1h-1zM570 183h1v1h-1zM570 184h1v1h-1zM570 185h1v1h-1zM571 185h1v1h-1zM571 186h1v1h-1zM572 187h1v1h-1zM572 188h1v1h-1zM573 189h1v1h-1zM574 190h1v1h-1zM574 191h1v1h-1zM575 191h1v1h-1zM575 192h1v1h-1zM576 192h1v1h-1zM576 193h1v1h-1zM577 194h1v1h-1zM578 195h1v1h-1zM578 196h1v1h-1zM579 196h1v1h-1zM579 197h1v1h-1zM580 197h1v1h-1zM580 198h1v1h-1zM581 198h1v1h-1zM582 198h1v1h-1zM583 198h1v1h-1zM583 199h1v1h-1zM584 198h1v1h-1zM585 193h1v1h-1zM585 195h1v1h-1zM585 198h1v1h-1zM586 191h1v1h-1zM598 197h1v1h-1zM599 196h1v1h-1zM600 194h1v1h-1zM600 196h1v1h-1zM601 181h1v1h-1zM601 182h1v1h-1zM601 193h1v1h-1zM602 176h1v1h-1zM602 178h1v1h-1zM602 179h1v1h-1zM603 173h1v1h-1zM603 175h1v1h-1zM604 173h1v1h-1zM605 172h1v1h-1zM605 173h1v1h-1zM606 174h1v1h-1zM606 175h1v1h-1zM607 175h1v1h-1zM607 176h1v1h-1zM608 177h1v1h-1zM608 178h1v1h-1zM609 179h1v1h-1zM610 180h1v1h-1zM610 181h1v1h-1zM610 182h1v1h-1zM611 182h1v1h-1zM611 183h1v1h-1zM611 184h1v1h-1zM612 184h1v1h-1zM612 185h1v1h-1zM613 185h1v1h-1zM613 186h1v1h-1zM614 185h1v1h-1zM614 186h1v1h-1zM615 184h1v1h-1zM615 185h1v1h-1zM616 184h1v1h-1zM616 185h1v1h-1zM617 185h1v1h-1zM617 186h1v1h-1zM618 187h1v1h-1zM618 188h1v1h-1zM619 188h1v1h-1zM619 189h1v1h-1zM620 189h1v1h-1zM620 190h1v1h-1zM621 191h1v1h-1zM621 192h1v1h-1zM622 192h1v1h-1zM622 193h1v1h-1zM622 194h1v1h-1z" fill="#0000ff"/>
<path d="M607 175h1v1h-1zM608 176h1v1h-1zM608 177h1v1h-1zM608 178h1v1h-1zM609 179h1v1h-1zM610 180h1v1h-1zM610 181h1v1h-1zM610 182h1v1h-1zM611 183h1v1h-1zM611 184h1v1h-1z" fill="#808080"/>
<path d="M52 144h1v1h-1zM52 145h1v1h-1zM53 145h1v1h-1zM54 146h1v1h-1zM54 147h1v1h-1zM55 147h1v1h-1zM56 148h1v1h-1zM57 149h1v1h-1zM57 150h1v1h-1zM58 151h1v1h-1zM59 151h1v1h-1zM59 152h1v1h-1zM60 152h1v1h-1zM60 153h1v1h-1zM61 153h1v1h-1zM62 154h1v1h-1zM62 155h1v1h-1zM63 156h1v1h-1zM63 157h1v1h-1zM63 158h1v1h-1zM64 158h1v1h-1zM64 159h1v1h-1zM65 161h1v1h-1zM65 162h1v1h-1zM65 163h1v1h-1zM66 164h1v1h-1zM66 165h1v1h-1zM67 166h1v1h-1zM67 167h1v1h-1zM68 168h1v1h-1zM68 169h1v1h-1zM69 170h1v1h-1zM69 171h1v1h-1zM70 171h1v1h-1zM70 172h1v1h-1zM71 172h1v1h-1zM72 172h1v1h-1zM73 172h1v1h-1zM73 175h1v1h-1zM73 176h1v1h-1zM74 177h1v1h-1zM74 178h1v1h-1zM75 179h1v1h-1zM75 180h1v1h-1zM75 181h1v1h-1zM76 182h1v1h-1zM76 183h1v1h-1zM77 184h1v1h-1zM77 185h1v1h-1zM78 186h1v1h-1zM78 187h1v1h-1zM79 188h1v1h-1zM79 189h1v1h-1zM80 189h1v1h-1zM80 190h1v1h-1zM81 191h1v1h-1zM81 192h1v1h-1zM82 193h1v1h-1zM83 186h1v1h-1zM83 187h1v1h-1zM83 193h1v1h-1zM84 185h1v1h-1zM84 186h1v1h-1zM85 184h1v1h-1zM85 185h1v1h-1zM85 186h1v1h-1zM86 188h1v1h-1zM86 189h1v1h-1zM87 190h1v1h-1zM87 191h1v1h-1zM88 192h1v1h-1zM89 193h1v1h-1zM90 193h1v1h-1zM91 185h1v1h-1zM91 189h1v1h-1zM91 194h1v1h-1zM92 174h1v1h-1zM92 177h1v1h-1zM92 181h1v1h-1zM93 169h1v1h-1zM93 172h1v1h-1zM93 176h1v1h-1zM94 180h1v1h-1zM94 183h1v1h-1zM95 184h1v1h-1zM96 184h1v1h-1zM96 185h1v1h-1zM97 184h1v1h-1zM97 188h1v1h-1zM98 188h1v1h-1zM98 191h1v1h-1zM98 192h1v1h-1zM99 192h1v1h-1zM99 193h1v1h-1zM99 194h1v1h-1zM100 195h1v1h-1zM100 196h1v1h-1zM100 197h1v1h-1zM101 198h1v1h-1zM101 199h1v1h-1zM102 200h1v1h-1zM102 201h1v1h-1zM103 201h1v1h-1zM103 202h1v1h-1zM104 203h1v1h-1zM105 203h1v1h-1zM106 203h1v1h-1zM107 203h1v1h-1zM108 202h1v1h-1zM108 203h1v1h-1zM109 200h1v1h-1zM109 201h1v1h-1zM110 200h1v1h-1zM111 200h1v1h-1zM112 201h1v1h-1zM113 201h1v1h-1zM113 202h1v1h-1zM114 202h1v1h-1zM114 203h1v1h-1zM115 202h1v1h-1zM116 195h1v1h-1zM116 196h1v1h-1zM116 199h1v1h-1zM116 202h1v1h-1zM117 197h1v1h-1zM117 200h1v1h-1zM118 201h1v1h-1zM119 201h1v1h-1zM120 201h1v1h-1zM121 201h1v1h-1zM122 200h1v1h-1zM123 199h1v1h-1zM123 200h1v1h-1zM124 197h1v1h-1zM124 198h1v1h-1zM124 199h1v1h-1zM125 195h1v1h-1zM125 196h1v1h-1zM126 192h1v1h-1zM126 193h1v1h-1zM126 194h1v1h-1zM127 190h1v1h-1zM127 191h1v1h-1zM127 192h1v1h-1zM128 189h1v1h-1zM128 190h1v1h-1zM129 187h1v1h-1zM129 188h1v1h-1zM130 186h1v1h-1zM130 187h1v1h-1zM131 186h1v1h-1zM132 186h1v1h-1zM133 186h1v1h-1zM134 186h1v1h-1zM135 186h1v1h-1zM136 186h1v1h-1zM136 187h1v1h-1zM137 187h1v1h-1zM138 187h1v1h-1zM138 188h1v1h-1zM139 188h1v1h-1zM140 189h1v1h-1zM141 189h1v1h-1zM141 190h1v1h-1zM142 190h1v1h-1zM142 191h1v1h-1zM143 188h1v1h-1zM143 189h1v1h-1zM143 190h1v1h-1zM144 186h1v1h-1zM144 187h1v1h-1zM145 185h1v1h-1zM145 186h1v1h-1zM146 180h1v1h-1zM146 182h1v1h-1zM146 185h1v1h-1zM147 174h1v1h-1zM147 178h1v1h-1zM148 181h1v1h-1zM148 184h1v1h-1zM149 186h1v1h-1zM149 187h1v1h-1zM150 188h1v1h-1zM151 189h1v1h-1zM152 190h1v1h-1zM153 190h1v1h-1zM153 191h1v1h-1zM154 191h1v1h-1zM155 192h1v1h-1zM156 192h1v1h-1zM156 193h1v1h-1zM157 193h1v1h-1zM158 193h1v1h-1zM159 194h1v1h-1zM160 194h1v1h-1zM161 195h1v1h-1zM162 195h1v1h-1zM162 196h1v1h-1zM163 196h1v1h-1zM163 197h1v1h-1zM164 197h1v1h-1zM164 198h1v1h-1zM165 198h1v1h-1zM165 199h1v1h-1zM166 196h1v1h-1zM166 199h1v1h-1zM167 193h1v1h-1zM167 194h1v1h-1zM168 195h1v1h-1zM168 196h1v1h-1zM169 196h1v1h-1zM170 195h1v1h-1zM170 196h1v1h-1zM171 193h1v1h-1zM171 194h1v1h-1zM172 186h1v1h-1zM172 192h1v1h-1zM173 168h1v1h-1zM173 170h1v1h-1zM173 177h1v1h-1zM173 181h1v1h-1zM174 165h1v1h-1zM174 166h1v1h-1zM175 163h1v1h-1zM175 164h1v1h-1zM176 162h1v1h-1zM177 158h1v1h-1zM177 160h1v1h-1zM177 162h1v1h-1zM178 152h1v1h-1zM178 156h1v1h-1zM179 139h1v1h-1zM179 145h1v1h-1zM179 149h1v1h-1zM180 151h1v1h-1zM180 157h1v1h-1zM180 163h1v1h-1zM181 166h1v1h-1zM181 170h1v1h-1zM181 171h1v1h-1zM182 173h1v1h-1zM182 174h1v1h-1zM183 176h1v1h-1zM183 177h1v1h-1zM183 178h1v1h-1zM184 179h1v1h-1zM184 180h1v1h-1zM184 181h1v1h-1zM185 182h1v1h-1zM185 183h1v1h-1zM186 185h1v1h-1zM186 186h1v1h-1zM187 187h1v1h-1zM187 188h1v1h-1zM188 189h1v1h-1zM188 190h1v1h-1zM189 191h1v1h-1zM189 192h1v1h-1zM190 192h1v1h-1zM190 193h1v1h-1zM191 193h1v1h-1zM191 194h1v1h-1zM192 194h1v1h-1zM192 195h1v1h-1zM193 195h1v1h-1zM193 196h1v1h-1zM194 196h1v1h-1zM194 197h1v1h-1zM195 197h1v1h-1zM196 197h1v1h-1zM196 198h1v1h-1zM197 198h1v1h-1zM198 198h1v1h-1zM198 199h1v1h-1zM199 199h1v1h-1zM200 199h1v1h-1zM201 199h1v1h-1zM202 199h1v1h-1zM203 199h1v1h-1zM204 199h1v1h-1zM205 199h1v1h-1zM205 200h1v1h-1zM206 200h1v1h-1zM206 201h1v1h-1zM207 201h1v1h-1zM207 202h1v1h-1zM208 202h1v1h-1zM208 203h1v1h-1zM209 201h1v1h-1zM209 203h1v1h-1zM210 196h1v1h-1zM210 199h1v1h-1zM211 197h1v1h-1zM212 198h1v1h-1zM212 199h1v1h-1zM213 195h1v1h-1zM213 198h1v1h-1zM213 200h1v1h-1zM214 191h1v1h-1zM214 193h1v1h-1zM215 189h1v1h-1zM215 190h1v1h-1zM215 192h1v1h-1zM216 193h1v1h-1zM216 195h1v1h-1zM216 196h1v1h-1zM217 197h1v1h-1zM217 198h1v1h-1zM217 199h1v1h-1zM218 200h1v1h-1zM218 202h1v1h-1zM219 202h1v1h-1zM220 203h1v1h-1zM221 203h1v1h-1zM221 204h1v1h-1zM222 203h1v1h-1zM223 202h1v1h-1zM223 203h1v1h-1zM224 202h1v1h-1zM225 201h1v1h-1zM226 202h1v1h-1zM226 203h1v1h-1zM227 203h1v1h-1zM228 204h1v1h-1zM228 205h1v1h-1zM229 205h1v1h-1zM230 205h1v1h-1zM230 206h1v1h-1zM231 206h1v1h-1zM232 206h1v1h-1zM232 207h1v1h-1zM233 206h1v1h-1zM234 206h1v1h-1zM235 206h1v1h-1zM236 206h1v1h-1zM236 207h1v1h-1zM237 207h1v1h-1zM238 206h1v1h-1zM238 207h1v1h-1zM239 206h1v1h-1zM240 205h1v1h-1zM241 204h1v1h-1zM241 205h1v1h-1zM242 204h1v1h-1zM243 203h1v1h-1zM243 204h1v1h-1zM244 203h1v1h-1zM245 204h1v1h-1zM246 204h1v1h-1zM247 205h1v1h-1zM248 205h1v1h-1zM248 206h1v1h-1zM249 206h1v1h-1zM250 206h1v1h-1zM250 207h1v1h-1zM251 206h1v1h-1zM252 206h1v1h-1zM253 205h1v1h-1zM254 205h1v1h-1zM255 206h1v1h-1zM256 206h1v1h-1zM257 206h1v1h-1zM257 207h1v1h-1zM258 206h1v1h-1zM259 206h1v1h-1zM260 206h1v1h-1zM261 205h1v1h-1zM261 206h1v1h-1zM262 205h1v1h-1zM263 204h1v1h-1zM263 205h1v1h-1zM264 204h1v1h-1zM265 205h1v1h-1zM266 205h1v1h-1zM266 206h1v1h-1zM267 206h1v1h-1zM267 207h1v1h-1zM268 206h1v1h-1zM269 206h1v1h-1zM270 206h1v1h-1zM271 205h1v1h-1zM271 206h1v1h-1zM272 205h1v1h-1zM273 204h1v1h-1zM274 203h1v1h-1zM274 204h1v1h-1zM275 202h1v1h-1zM275 203h1v1h-1zM276 201h1v1h-1zM276 202h1v1h-1zM277 202h1v1h-1zM277 203h1v1h-1zM278 203h1v1h-1zM279 203h1v1h-1zM279 204h1v1h-1zM280 204h1v1h-1zM281 203h1v1h-1zM281 204h1v1h-1zM282 196h1v1h-1zM282 197h1v1h-1zM282 202h1v1h-1zM282 203h1v1h-1zM283 195h1v1h-1zM283 196h1v1h-1zM284 196h1v1h-1zM284 197h1v1h-1zM284 198h1v1h-1zM285 199h1v1h-1zM286 200h1v1h-1zM286 201h1v1h-1zM287 202h1v1h-1zM287 203h1v1h-1zM288 204h1v1h-1zM289 203h1v1h-1zM289 204h1v1h-1zM290 201h1v1h-1zM290 202h1v1h-1zM291 201h1v1h-1zM292 203h1v1h-1zM292 204h1v1h-1zM293 204h1v1h-1zM293 205h1v1h-1zM294 205h1v1h-1zM294 206h1v1h-1zM295 204h1v1h-1zM295 205h1v1h-1zM295 207h1v1h-1zM296 203h1v1h-1zM296 204h1v1h-1zM297 203h1v1h-1zM298 203h1v1h-1zM298 204h1v1h-1zM299 203h1v1h-1zM300 199h1v1h-1zM300 200h1v1h-1zM300 201h1v1h-1zM301 163h1v1h-1zM301 181h1v1h-1zM301 192h1v1h-1zM301 198h1v1h-1zM301 199h1v1h-1zM302 139h1v1h-1zM302 146h1v1h-1zM303 105h1v1h-1zM303 107h1v1h-1zM303 113h1v1h-1zM303 126h1v1h-1zM303 133h1v1h-1zM304 102h1v1h-1zM304 104h1v1h-1zM305 103h1v1h-1zM305 105h1v1h-1zM306 108h1v1h-1zM306 110h1v1h-1zM306 112h1v1h-1zM307 114h1v1h-1zM307 115h1v1h-1zM307 118h1v1h-1zM308 121h1v1h-1zM308 122h1v1h-1zM309 123h1v1h-1zM309 124h1v1h-1zM309 126h1v1h-1zM310 127h1v1h-1zM310 129h1v1h-1zM311 130h1v1h-1zM312 131h1v1h-1zM313 131h1v1h-1zM313 132h1v1h-1zM314 132h1v1h-1zM314 133h1v1h-1zM315 133h1v1h-1zM315 134h1v1h-1zM316 135h1v1h-1zM317 136h1v1h-1zM317 137h1v1h-1zM318 138h1v1h-1zM318 139h1v1h-1zM319 140h1v1h-1zM319 141h1v1h-1zM320 142h1v1h-1zM320 143h1v1h-1zM320 144h1v1h-1zM321 145h1v1h-1zM321 146h1v1h-1zM322 147h1v1h-1zM322 148h1v1h-1zM322 149h1v1h-1zM323 150h1v1h-1zM323 151h1v1h-1zM324 152h1v1h-1zM324 153h1v1h-1zM325 154h1v1h-1zM325 155h1v1h-1zM325 156h1v1h-1zM326 157h1v1h-1zM326 158h1v1h-1zM327 159h1v1h-1zM327 160h1v1h-1zM328 161h1v1h-1zM328 162h1v1h-1zM329 163h1v1h-1zM329 164h1v1h-1zM329 165h1v1h-1zM330 166h1v1h-1zM331 167h1v1h-1zM331 168h1v1h-1zM331 169h1v1h-1zM332 169h1v1h-1zM332 170h1v1h-1zM333 171h1v1h-1zM333 172h1v1h-1zM334 173h1v1h-1zM334 174h1v1h-1zM335 175h1v1h-1zM335 176h1v1h-1zM336 177h1v1h-1zM336 178h1v1h-1zM337 179h1v1h-1zM337 180h1v1h-1zM338 181h1v1h-1zM339 182h1v1h-1zM339 183h1v1h-1zM340 184h1v1h-1zM341 185h1v1h-1zM341 186h1v1h-1zM342 187h1v1h-1zM343 188h1v1h-1zM343 189h1v1h-1zM344 189h1v1h-1zM344 190h1v1h-1zM345 190h1v1h-1zM345 191h1v1h-1zM345 192h1v1h-1zM346 192h1v1h-1zM346 193h1v1h-1zM347 193h1v1h-1zM347 194h1v1h-1zM347 195h1v1h-1zM348 195h1v1h-1zM349 195h1v1h-1zM349 196h1v1h-1zM350 196h1v1h-1zM351 196h1v1h-1zM352 196h1v1h-1zM353 197h1v1h-1zM354 197h1v1h-1zM355 198h1v1h-1zM355 199h1v1h-1zM356 199h1v1h-1zM357 200h1v1h-1zM357 201h1v1h-1zM358 201h1v1h-1zM359 202h1v1h-1zM359 203h1v1h-1zM360 203h1v1h-1zM361 201h1v1h-1zM361 202h1v1h-1zM361 203h1v1h-1zM362 199h1v1h-1zM362 200h1v1h-1zM363 195h1v1h-1zM363 197h1v1h-1zM363 198h1v1h-1zM364 195h1v1h-1zM365 194h1v1h-1zM365 195h1v1h-1zM366 194h1v1h-1zM367 194h1v1h-1zM367 195h1v1h-1zM367 196h1v1h-1zM368 197h1v1h-1zM368 198h1v1h-1zM369 199h1v1h-1zM370 199h1v1h-1zM370 200h1v1h-1zM371 198h1v1h-1zM371 199h1v1h-1zM372 197h1v1h-1zM372 198h1v1h-1zM372 199h1v1h-1zM373 200h1v1h-1zM373 201h1v1h-1zM374 201h1v1h-1zM374 202h1v1h-1zM375 202h1v1h-1zM375 203h1v1h-1zM376 203h1v1h-1zM377 203h1v1h-1zM377 204h1v1h-1zM378 204h1v1h-1zM379 204h1v1h-1zM379 205h1v1h-1zM380 205h1v1h-1zM381 206h1v1h-1zM382 206h1v1h-1zM382 207h1v1h-1zM383 207h1v1h-1zM383 208h1v1h-1zM384 206h1v1h-1zM384 207h1v1h-1zM385 205h1v1h-1zM386 198h1v1h-1zM386 200h1v1h-1zM386 202h1v1h-1zM387 193h1v1h-1zM387 196h1v1h-1zM388 184h1v1h-1zM388 187h1v1h-1zM388 190h1v1h-1zM389 179h1v1h-1zM389 182h1v1h-1zM389 192h1v1h-1zM390 193h1v1h-1zM390 194h1v1h-1zM390 195h1v1h-1zM391 195h1v1h-1zM391 196h1v1h-1zM392 198h1v1h-1zM392 200h1v1h-1zM392 201h1v1h-1zM393 200h1v1h-1zM394 199h1v1h-1zM395 196h1v1h-1zM395 197h1v1h-1zM395 198h1v1h-1zM396 193h1v1h-1zM396 194h1v1h-1zM396 196h1v1h-1zM397 190h1v1h-1zM397 191h1v1h-1zM398 189h1v1h-1zM399 185h1v1h-1zM399 187h1v1h-1zM399 189h1v1h-1zM400 181h1v1h-1zM400 183h1v1h-1zM401 164h1v1h-1zM401 172h1v1h-1zM401 176h1v1h-1zM402 153h1v1h-1zM402 156h1v1h-1zM402 157h1v1h-1zM402 160h1v1h-1zM403 163h1v1h-1zM403 167h1v1h-1zM404 176h1v1h-1zM404 185h1v1h-1zM404 190h1v1h-1zM405 194h1v1h-1zM405 196h1v1h-1zM405 197h1v1h-1zM406 199h1v1h-1zM406 200h1v1h-1zM407 200h1v1h-1zM407 201h1v1h-1zM408 201h1v1h-1zM409 202h1v1h-1zM410 202h1v1h-1zM410 203h1v1h-1zM411 203h1v1h-1zM412 204h1v1h-1zM413 205h1v1h-1zM414 205h1v1h-1zM414 206h1v1h-1zM415 206h1v1h-1zM416 206h1v1h-1zM417 205h1v1h-1zM418 204h1v1h-1zM418 205h1v1h-1zM419 203h1v1h-1zM419 204h1v1h-1zM420 197h1v1h-1zM420 202h1v1h-1zM421 185h1v1h-1zM421 188h1v1h-1zM421 191h1v1h-1zM422 178h1v1h-1zM422 179h1v1h-1zM422 181h1v1h-1zM423 180h1v1h-1zM423 181h1v1h-1zM424 182h1v1h-1zM424 186h1v1h-1zM424 190h1v1h-1zM425 191h1v1h-1zM425 193h1v1h-1zM425 195h1v1h-1zM426 197h1v1h-1zM427 198h1v1h-1zM427 199h1v1h-1zM428 199h1v1h-1zM428 200h1v1h-1zM429 200h1v1h-1zM430 200h1v1h-1zM430 201h1v1h-1zM431 198h1v1h-1zM431 199h1v1h-1zM432 191h1v1h-1zM432 194h1v1h-1zM432 197h1v1h-1zM433 187h1v1h-1zM433 188h1v1h-1zM433 190h1v1h-1zM434 186h1v1h-1zM434 187h1v1h-1zM435 187h1v1h-1zM435 188h1v1h-1zM435 189h1v1h-1zM436 190h1v1h-1zM436 191h1v1h-1zM436 192h1v1h-1zM437 192h1v1h-1zM437 193h1v1h-1zM438 193h1v1h-1zM438 194h1v1h-1zM439 195h1v1h-1zM439 196h1v1h-1zM440 196h1v1h-1zM440 197h1v1h-1zM441 197h1v1h-1zM441 198h1v1h-1zM442 198h1v1h-1zM442 199h1v1h-1zM443 196h1v1h-1zM443 197h1v1h-1zM444 194h1v1h-1zM444 195h1v1h-1zM445 195h1v1h-1zM446 195h1v1h-1zM446 196h1v1h-1zM447 196h1v1h-1zM447 197h1v1h-1zM448 198h1v1h-1zM448 199h1v1h-1zM449 200h1v1h-1zM450 201h1v1h-1zM450 202h1v1h-1zM451 203h1v1h-1zM451 204h1v1h-1zM452 205h1v1h-1zM452 206h1v1h-1zM453 205h1v1h-1zM453 206h1v1h-1zM453 207h1v1h-1zM454 204h1v1h-1zM454 205h1v1h-1zM455 205h1v1h-1zM455 206h1v1h-1zM456 206h1v1h-1zM456 207h1v1h-1zM457 207h1v1h-1zM457 208h1v1h-1zM458 208h1v1h-1zM459 208h1v1h-1zM460 208h1v1h-1zM461 208h1v1h-1zM462 208h1v1h-1zM463 207h1v1h-1zM463 208h1v1h-1zM464 206h1v1h-1zM464 207h1v1h-1zM465 205h1v1h-1zM465 206h1v1h-1zM466 205h1v1h-1zM466 206h1v1h-1zM467 207h1v1h-1zM467 208h1v1h-1zM468 208h1v1h-1zM469 208h1v1h-1zM469 209h1v1h-1zM470 209h1v1h-1zM471 210h1v1h-1zM472 211h1v1h-1zM473 212h1v1h-1zM474 212h1v1h-1zM474 213h1v1h-1zM475 213h1v1h-1zM476 212h1v1h-1zM477 210h1v1h-1zM477 211h1v1h-1zM477 212h1v1h-1zM478 207h1v1h-1zM478 208h1v1h-1zM478 209h1v1h-1zM479 207h1v1h-1zM480 207h1v1h-1zM480 208h1v1h-1zM481 208h1v1h-1zM481 209h1v1h-1zM481 210h1v1h-1zM482 210h1v1h-1zM482 211h1v1h-1zM483 211h1v1h-1zM483 212h1v1h-1zM484 212h1v1h-1zM484 213h1v1h-1zM485 209h1v1h-1zM485 211h1v1h-1zM486 205h1v1h-1zM486 207h1v1h-1zM487 205h1v1h-1zM487 206h1v1h-1zM488 206h1v1h-1zM488 207h1v1h-1zM489 208h1v1h-1zM489 209h1v1h-1zM490 210h1v1h-1zM490 211h1v1h-1zM491 211h1v1h-1zM492 212h1v1h-1zM492 213h1v1h-1zM493 213h1v1h-1zM493 214h1v1h-1zM494 214h1v1h-1zM494 215h1v1h-1zM495 214h1v1h-1zM496 213h1v1h-1zM496 214h1v1h-1zM497 213h1v1h-1zM498 213h1v1h-1zM499 213h1v1h-1zM500 213h1v1h-1zM501 213h1v1h-1zM502 213h1v1h-1zM503 213h1v1h-1zM504 213h1v1h-1zM504 214h1v1h-1zM505 214h1v1h-1zM506 214h1v1h-1zM507 214h1v1h-1zM508 212h1v1h-1zM508 214h1v1h-1zM509 211h1v1h-1zM510 211h1v1h-1zM511 211h1v1h-1zM512 210h1v1h-1zM513 209h1v1h-1zM514 208h1v1h-1zM514 209h1v1h-1zM515 207h1v1h-1zM516 206h1v1h-1zM516 207h1v1h-1zM517 206h1v1h-1zM518 206h1v1h-1zM519 205h1v1h-1zM520 202h1v1h-1zM520 204h1v1h-1zM520 205h1v1h-1zM521 201h1v1h-1zM522 201h1v1h-1zM523 201h1v1h-1zM523 202h1v1h-1zM524 202h1v1h-1zM524 203h1v1h-1zM525 203h1v1h-1zM526 203h1v1h-1zM527 202h1v1h-1zM528 201h1v1h-1zM529 201h1v1h-1zM530 200h1v1h-1zM530 201h1v1h-1zM531 201h1v1h-1zM531 202h1v1h-1zM532 202h1v1h-1zM532 203h1v1h-1zM533 203h1v1h-1zM534 203h1v1h-1zM534 204h1v1h-1zM535 203h1v1h-1zM536 202h1v1h-1zM536 203h1v1h-1zM537 201h1v1h-1zM537 202h1v1h-1zM538 201h1v1h-1zM538 202h1v1h-1zM539 203h1v1h-1zM540 204h1v1h-1zM541 204h1v1h-1zM541 205h1v1h-1zM542 203h1v1h-1zM542 204h1v1h-1zM543 202h1v1h-1zM543 203h1v1h-1zM544 198h1v1h-1zM544 199h1v1h-1zM544 201h1v1h-1zM545 195h1v1h-1zM545 196h1v1h-1zM545 197h1v1h-1zM546 186h1v1h-1zM546 194h1v1h-1zM547 131h1v1h-1zM547 138h1v1h-1zM547 140h1v1h-1zM547 162h1v1h-1zM547 174h1v1h-1zM548 149h1v1h-1zM548 154h1v1h-1zM548 159h1v1h-1zM549 165h1v1h-1zM549 177h1v1h-1zM549 179h1v1h-1zM549 180h1v1h-1zM550 182h1v1h-1zM550 186h1v1h-1zM550 187h1v1h-1zM551 188h1v1h-1zM551 189h1v1h-1zM551 191h1v1h-1zM552 192h1v1h-1zM552 193h1v1h-1zM553 194h1v1h-1zM553 195h1v1h-1zM554 196h1v1h-1zM554 197h1v1h-1zM554 198h1v1h-1zM555 199h1v1h-1zM555 200h1v1h-1zM556 200h1v1h-1zM556 201h1v1h-1zM557 202h1v1h-1zM558 203h1v1h-1zM559 203h1v1h-1zM559 204h1v1h-1zM560 204h1v1h-1zM561 204h1v1h-1zM562 202h1v1h-1zM562 203h1v1h-1zM562 204h1v1h-1zM563 200h1v1h-1zM563 202h1v1h-1zM564 196h1v1h-1zM564 198h1v1h-1zM564 199h1v1h-1zM565 194h1v1h-1zM565 195h1v1h-1zM566 192h1v1h-1zM566 193h1v1h-1zM567 193h1v1h-1zM568 194h1v1h-1zM568 195h1v1h-1zM568 196h1v1h-1zM569 196h1v1h-1zM569 197h1v1h-1zM570 197h1v1h-1zM570 198h1v1h-1zM571 199h1v1h-1zM572 200h1v1h-1zM572 201h1v1h-1zM573 202h1v1h-1zM574 202h1v1h-1zM574 203h1v1h-1zM575 204h1v1h-1zM576 204h1v1h-1zM576 205h1v1h-1zM577 205h1v1h-1zM577 206h1v1h-1zM578 206h1v1h-1zM578 207h1v1h-1zM579 207h1v1h-1zM580 207h1v1h-1zM580 208h1v1h-1zM581 208h1v1h-1zM582 208h1v1h-1zM582 209h1v1h-1zM583 208h1v1h-1zM584 207h1v1h-1zM584 208h1v1h-1zM585 202h1v1h-1zM585 203h1v1h-1zM585 205h1v1h-1zM586 198h1v1h-1zM586 200h1v1h-1zM587 198h1v1h-1zM587 199h1v1h-1zM588 199h1v1h-1zM588 200h1v1h-1zM589 201h1v1h-1zM589 202h1v1h-1zM590 201h1v1h-1zM591 200h1v1h-1zM591 201h1v1h-1zM592 202h1v1h-1zM592 203h1v1h-1zM592 204h1v1h-1zM593 205h1v1h-1zM594 206h1v1h-1zM595 206h1v1h-1zM596 206h1v1h-1zM597 206h1v1h-1zM598 206h1v1h-1zM599 206h1v1h-1zM600 201h1v1h-1zM600 206h1v1h-1zM601 190h1v1h-1zM601 195h1v1h-1zM602 176h1v1h-1zM602 180h1v1h-1zM603 175h1v1h-1zM604 175h1v1h-1zM604 176h1v1h-1zM605 177h1v1h-1zM605 178h1v1h-1zM605 180h1v1h-1zM606 181h1v1h-1zM606 183h1v1h-1zM607 185h1v1h-1zM607 187h1v1h-1zM607 188h1v1h-1zM608 189h1v1h-1zM608 190h1v1h-1zM609 191h1v1h-1zM609 192h1v1h-1zM609 193h1v1h-1zM610 194h1v1h-1zM610 195h1v1h-1zM611 196h1v1h-1zM612 197h1v1h-1zM612 198h1v1h-1zM613 199h1v1h-1zM614 198h1v1h-1zM615 197h1v1h-1zM615 198h1v1h-1zM616 198h1v1h-1zM617 198h1v1h-1zM618 199h1v1h-1zM618 200h1v1h-1zM619 201h1v1h-1zM620 202h1v1h-1zM620 203h1v1h-1zM621 204h1v1h-1zM622 204h1v1h-1zM623 205h1v1h-1z" fill="#ff0000"/>
<text x="157.5" y="20.0" font-size="14.5" text-anchor="start" textLength="31.0" lengthAdjust="spacingAndGlyphs" style="stroke-width:0">GOES</text>
<text x="195.8" y="20.0" font-size="14.5" text-anchor="start" textLength="68.0" lengthAdjust="spacingAndGlyphs" style="stroke-width:0">0.1&#8212;0.8nm</text>
<text x="271.5" y="20.0" font-size="14.5" text-anchor="start" textLength="33.4" lengthAdjust="spacingAndGlyphs" style="stroke-width:0">(red),</text>
<text x="312.3" y="20.0" font-size="14.5" text-anchor="start" textLength="30.0" lengthAdjust="spacingAndGlyphs" style="stroke-width:0">LYRA</text>
<text x="346.2" y="20.0" font-size="14.5" text-anchor="start" textLength="11.04" lengthAdjust="spacingAndGlyphs" style="stroke-width:0">Al</text>
<text x="364.6" y="20.0" font-size="14.5" text-anchor="start" textLength="34.41" lengthAdjust="spacingAndGlyphs" style="stroke-width:0">(blue)</text>
<text x="406.9" y="20.0" font-size="14.5" text-anchor="start" textLength="9.24" lengthAdjust="spacingAndGlyphs" style="stroke-width:0">&amp;</text>
<text x="423.8" y="20.0" font-size="14.5" text-anchor="start" textLength="13.6" lengthAdjust="spacingAndGlyphs" style="stroke-width:0">Zr</text>
<text x="443.8" y="20.0" font-size="14.5" text-anchor="start" textLength="35.81" lengthAdjust="spacingAndGlyphs" style="stroke-width:0">(grey)</text>
<text x="486.9" y="20.0" font-size="14.5" text-anchor="start" textLength="31.6" lengthAdjust="spacingAndGlyphs" style="stroke-width:0">proxy</text>
<text x="267.3" y="470.0" font-size="10.2" text-anchor="start" textLength="21.6" lengthAdjust="spacingAndGlyphs">Time</text>
<text x="306.5" y="470.0" font-size="10.2" text-anchor="start" textLength="5.24" lengthAdjust="spacingAndGlyphs">h</text>
<text x="317.5" y="470.0" font-size="10.2" text-anchor="start" textLength="21.22" lengthAdjust="spacingAndGlyphs">UTC,</text>
<text x="346.0" y="470.0" font-size="10.2" text-anchor="start" textLength="10.61" lengthAdjust="spacingAndGlyphs">18</text>
<text x="362.1" y="470.0" font-size="10.2" text-anchor="start" textLength="15.83" lengthAdjust="spacingAndGlyphs">Jan</text>
<text x="384.6" y="470.0" font-size="10.2" text-anchor="start" textLength="23.82" lengthAdjust="spacingAndGlyphs">2023</text>
<text x="488.9" y="495.0" font-size="11.6" text-anchor="start" textLength="53.41" lengthAdjust="spacingAndGlyphs">ROB/SIDC,</text>
<text x="549.6" y="495.0" font-size="11.6" text-anchor="start" textLength="46.81" lengthAdjust="spacingAndGlyphs">Brussels,</text>
<text x="602.0" y="495.0" font-size="11.6" text-anchor="start" textLength="40.0" lengthAdjust="spacingAndGlyphs">Belgium</text>
<text x="49.0" y="458.0" font-size="10.1" text-anchor="start" textLength="6.0" lengthAdjust="spacingAndGlyphs">0</text>
<text x="168.8" y="458.0" font-size="10.1" text-anchor="start" textLength="4.87" lengthAdjust="spacingAndGlyphs">5</text>
<text x="286.0" y="458.0" font-size="10.1" text-anchor="start" textLength="10.0" lengthAdjust="spacingAndGlyphs">10</text>
<text x="405.0" y="458.0" font-size="10.1" text-anchor="start" textLength="10.84" lengthAdjust="spacingAndGlyphs">15</text>
<text x="523.0" y="458.0" font-size="10.1" text-anchor="start" textLength="12.0" lengthAdjust="spacingAndGlyphs">20</text>
<text x="632.0" y="80.0" font-size="11.6" text-anchor="start" textLength="6.07" lengthAdjust="spacingAndGlyphs">M</text>
<text x="632.0" y="185.0" font-size="11.6" text-anchor="start" textLength="6.07" lengthAdjust="spacingAndGlyphs">C</text>
<text x="632.0" y="290.0" font-size="11.6" text-anchor="start" textLength="6.07" lengthAdjust="spacingAndGlyphs">B</text>
<text x="631.0" y="395.5" font-size="11.6" text-anchor="start" textLength="6.07" lengthAdjust="spacingAndGlyphs">A</text>
<text x="34.0" y="30.0" font-size="8.8" text-anchor="start" textLength="8.06" lengthAdjust="spacingAndGlyphs" style="stroke-width:0.45px">10</text>
<text x="43.3" y="26.0" font-size="5.6" text-anchor="start" textLength="6.85" lengthAdjust="spacingAndGlyphs" style="stroke-width:0.45px">&#8722;4</text>
<text x="34.0" y="133.0" font-size="8.8" text-anchor="start" textLength="8.06" lengthAdjust="spacingAndGlyphs" style="stroke-width:0.45px">10</text>
<text x="43.3" y="129.0" font-size="5.6" text-anchor="start" textLength="6.85" lengthAdjust="spacingAndGlyphs" style="stroke-width:0.45px">&#8722;5</text>
<text x="34.0" y="238.0" font-size="8.8" text-anchor="start" textLength="8.06" lengthAdjust="spacingAndGlyphs" style="stroke-width:0.45px">10</text>
<text x="43.3" y="234.0" font-size="5.6" text-anchor="start" textLength="6.85" lengthAdjust="spacingAndGlyphs" style="stroke-width:0.45px">&#8722;6</text>
<text x="34.0" y="343.0" font-size="8.8" text-anchor="start" textLength="8.06" lengthAdjust="spacingAndGlyphs" style="stroke-width:0.45px">10</text>
<text x="42.3" y="339.0" font-size="5.6" text-anchor="start" textLength="8.0" lengthAdjust="spacingAndGlyphs" style="stroke-width:0.45px">&#8722;7</text>
<text x="34.0" y="445.0" font-size="8.8" text-anchor="start" textLength="8.06" lengthAdjust="spacingAndGlyphs" style="stroke-width:0.45px">10</text>
<text x="43.3" y="441.0" font-size="5.6" text-anchor="start" textLength="5.87" lengthAdjust="spacingAndGlyphs" style="stroke-width:0.45px">&#8722;8</text>
<text transform="translate(25.9,288.5) rotate(-90)" x="0.0" y="0" font-size="9.6" textLength="19.03" lengthAdjust="spacingAndGlyphs">GOES</text>
<text transform="translate(25.9,264.5) rotate(-90)" x="0.0" y="0" font-size="9.6" textLength="39.0" lengthAdjust="spacingAndGlyphs">Irradiance</text>
<text transform="translate(25.9,211.5) rotate(-90)" x="0.0" y="0" font-size="9.6" textLength="9.05" lengthAdjust="spacingAndGlyphs">(W</text>
<text transform="translate(25.9,197.5) rotate(-90)" x="0.0" y="0" font-size="9.6" textLength="6.07" lengthAdjust="spacingAndGlyphs">m</text>
<text transform="translate(25.9,190.5) rotate(-90)" x="0.0" y="-4" font-size="6.0" textLength="6.07" lengthAdjust="spacingAndGlyphs">&#8722;2</text>
<text transform="translate(25.9,182.8) rotate(-90)" x="0.0" y="0" font-size="9.6" textLength="1.31" lengthAdjust="spacingAndGlyphs">)</text>
<path d="M295 472h1v1h-1zM296 470h1v1h-1zM296 471h1v1h-1zM297 468h1v1h-1zM297 469h1v1h-1zM298 466h1v1h-1zM298 467h1v1h-1zM299 464h1v1h-1zM299 465h1v1h-1zM300 462h1v1h-1zM300 463h1v1h-1zM301 461h1v1h-1z" fill="#000"/>
<path d="M19 216h1v1h-1zM20 217h1v1h-1zM21 217h1v1h-1zM22 218h1v1h-1zM23 218h1v1h-1zM24 219h1v1h-1zM25 220h1v1h-1zM26 220h1v1h-1zM27 221h1v1h-1z" fill="#000"/>
</g>
</svg>
</body></html>
